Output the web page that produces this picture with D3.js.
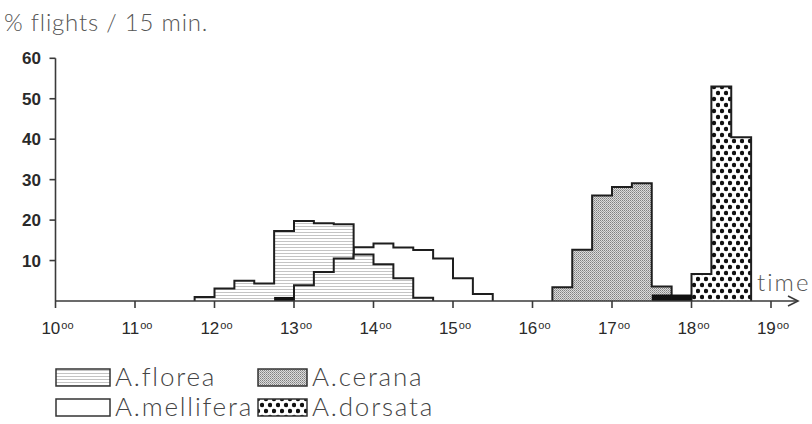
<!DOCTYPE html>
<html>
<head>
<meta charset="utf-8">
<script src="https://cdn.jsdelivr.net/npm/d3@7"></script>
<style>
  body { margin: 0; background: #fff; }
  svg { display: block; }
</style>
</head>
<body>
<svg id="chart" width="812" height="424"></svg>
<script>
// Time axis (hours of the day) and percentage ticks
const hours = [10, 11, 12, 13, 14, 15, 16, 17, 18, 19];
const yTicks = [10, 20, 30, 40, 50, 60];
const binWidth = 0.25; // 15-minute bins

// % of drone flights per 15-minute interval, by species (start = first bin, in hours)
const floreaStart = 11.75;
const floreaValues = [1, 3.1, 5, 4.3, 17.3, 19.8, 19.2, 19];
const florea2Start = 13.0;
const florea2Values = [3.9, 7.2, 10.5, 11.5, 9.1, 5.6, 0.8];
const melliferaStart = 13.75;
const melliferaValues = [13.3, 14.2, 13.2, 12.6, 10.5, 5.6, 1.7];
const ceranaStart = 16.25;
const ceranaValues = [3.4, 12.7, 26.1, 28.2, 29.1, 3.6];
const dorsataStart = 18.0;
const dorsataValues = [6.7, 53, 40.5];
// small solid-black intervals
const darkStarts = [12.75, 17.5, 17.75];
const darkValues = [1, 1.6, 1.6];

const legendNames = ["A.florea", "A.cerana", "A.mellifera", "A.dorsata"];

const svg = d3.select("#chart");
const thin = "Lato, 'Open Sans', sans-serif";
const sans = "'Liberation Sans', Arial, sans-serif";

const x = d3.scaleLinear().domain([10, 19]).range([55.5, 771]);
const y = d3.scaleLinear().domain([0, 60]).range([301, 58.3]);

// ---- fill patterns ----
const defs = svg.append("defs");

const pFlorea = defs.append("pattern").attr("id", "pFlorea")
  .attr("patternUnits", "userSpaceOnUse").attr("width", 4).attr("height", 3);
pFlorea.append("rect").attr("width", 4).attr("height", 3).attr("fill", "#fff");
pFlorea.append("rect").attr("y", 1).attr("width", 4).attr("height", 1).attr("fill", "#c4c4c4");

const pCerana = defs.append("pattern").attr("id", "pCerana")
  .attr("patternUnits", "userSpaceOnUse").attr("width", 2).attr("height", 2);
pCerana.append("rect").attr("width", 2).attr("height", 2).attr("fill", "#dcdcdc");
pCerana.append("rect").attr("width", 1).attr("height", 1).attr("fill", "#808080");
pCerana.append("rect").attr("x", 1).attr("y", 1).attr("width", 1).attr("height", 1).attr("fill", "#a0a0a0");

const pDorsata = defs.append("pattern").attr("id", "pDorsata")
  .attr("patternUnits", "userSpaceOnUse").attr("width", 8).attr("height", 12);
pDorsata.append("rect").attr("width", 8).attr("height", 12).attr("fill", "#fff");
pDorsata.append("circle").attr("cx", 2).attr("cy", 3).attr("r", 2.2).attr("fill", "#111");
pDorsata.append("circle").attr("cx", 6).attr("cy", 9).attr("r", 2.2).attr("fill", "#111");

const fills = {
  "A.florea": "url(#pFlorea)",
  "A.cerana": "url(#pCerana)",
  "A.mellifera": "#fff",
  "A.dorsata": "url(#pDorsata)"
};

// ---- histogram outlines (step paths) ----
function stepPath(start, values) {
  const pts = [[start, 0]];
  values.forEach((v, i) => {
    const t = start + i * binWidth;
    pts.push([t, v], [t + binWidth, v]);
  });
  pts.push([start + values.length * binWidth, 0]);
  return d3.line().x(d => x(d[0])).y(d => y(d[1]))(pts);
}

const series = [
  { start: melliferaStart, values: melliferaValues, fill: fills["A.mellifera"] },
  { start: floreaStart, values: floreaValues, fill: fills["A.florea"] },
  { start: florea2Start, values: florea2Values, fill: fills["A.florea"] },
  { start: ceranaStart, values: ceranaValues, fill: fills["A.cerana"] },
  { start: dorsataStart, values: dorsataValues, fill: fills["A.dorsata"] }
];

svg.append("g").selectAll("path").data(series).join("path")
  .attr("d", d => stepPath(d.start, d.values))
  .attr("fill", d => d.fill)
  .attr("stroke", "#1e1e1e")
  .attr("stroke-width", 2)
  .attr("stroke-linejoin", "miter");

svg.append("g").selectAll("rect").data(darkStarts).join("rect")
  .attr("x", d => x(d))
  .attr("width", d => x(d + binWidth) - x(d))
  .attr("y", (d, i) => y(darkValues[i]))
  .attr("height", (d, i) => y(0) - y(darkValues[i]))
  .attr("fill", "#111");

// ---- axes ----
const axisColor = "#3a3a3a";
const ax = svg.append("g").attr("stroke", axisColor).attr("stroke-width", 1.6).attr("fill", "none");

// y axis
ax.append("line").attr("x1", x(10)).attr("x2", x(10)).attr("y1", y(60)).attr("y2", y(0));
ax.selectAll("line.yt").data(yTicks).join("line").attr("class", "yt")
  .attr("x1", x(10) - 6).attr("x2", x(10)).attr("y1", d => y(d)).attr("y2", d => y(d));

// x axis with arrow
ax.append("line").attr("x1", x(10)).attr("x2", 798).attr("y1", y(0)).attr("y2", y(0));
ax.append("path").attr("d", `M788,${y(0) - 5}L798,${y(0)}L788,${y(0) + 5}`);
ax.selectAll("line.xt").data(hours).join("line").attr("class", "xt")
  .attr("x1", d => x(d)).attr("x2", d => x(d)).attr("y1", y(0)).attr("y2", y(0) + 7);

// y tick labels
svg.append("g").selectAll("text").data(yTicks).join("text")
  .attr("x", 41).attr("y", d => y(d) + 6)
  .attr("text-anchor", "end")
  .attr("font-family", sans).attr("font-weight", "bold").attr("font-size", 17)
  .attr("fill", "#2a2a2a")
  .text(d => d);

// x tick labels: hour with raised "oo"
const xl = svg.append("g").selectAll("text").data(hours).join("text")
  .attr("x", d => x(d) + 2).attr("y", 334)
  .attr("text-anchor", "middle")
  .attr("font-family", sans).attr("font-size", 17)
  .attr("fill", "#2a2a2a");
xl.append("tspan").text(d => d);
xl.append("tspan").attr("font-size", 11).attr("dy", -5).attr("dx", 1).text("oo");

// axis titles
svg.append("text").attr("x", 4).attr("y", 31)
  .attr("font-family", thin).attr("font-weight", 300).attr("font-size", 24)
  .attr("letter-spacing", 0.8)
  .attr("fill", "#555").text("% flights / 15 min.");

svg.append("text").attr("x", 757).attr("y", 291)
  .attr("font-family", thin).attr("font-weight", 300).attr("font-size", 24)
  .attr("letter-spacing", 2)
  .attr("fill", "#555").text("time");

// ---- legend ----
const legendPos = [
  { name: legendNames[0], sx: 56, sy: 369, tx: 115 },
  { name: legendNames[1], sx: 258, sy: 369, tx: 312 },
  { name: legendNames[2], sx: 56, sy: 399, tx: 115 },
  { name: legendNames[3], sx: 258, sy: 399, tx: 312 }
];
const lg = svg.append("g").selectAll("g").data(legendPos).join("g");
lg.append("rect")
  .attr("x", d => d.sx).attr("y", d => d.sy).attr("width", d => d.tx - d.sx - 5).attr("height", 17)
  .attr("fill", d => fills[d.name]).attr("stroke", "#333").attr("stroke-width", 1.5);
lg.append("text")
  .attr("x", d => d.tx).attr("y", d => d.sy + 17)
  .attr("font-family", thin).attr("font-weight", 300).attr("font-size", 26)
  .attr("letter-spacing", 1.8)
  .attr("fill", "#444")
  .text(d => d.name);
</script>
</body>
</html>
